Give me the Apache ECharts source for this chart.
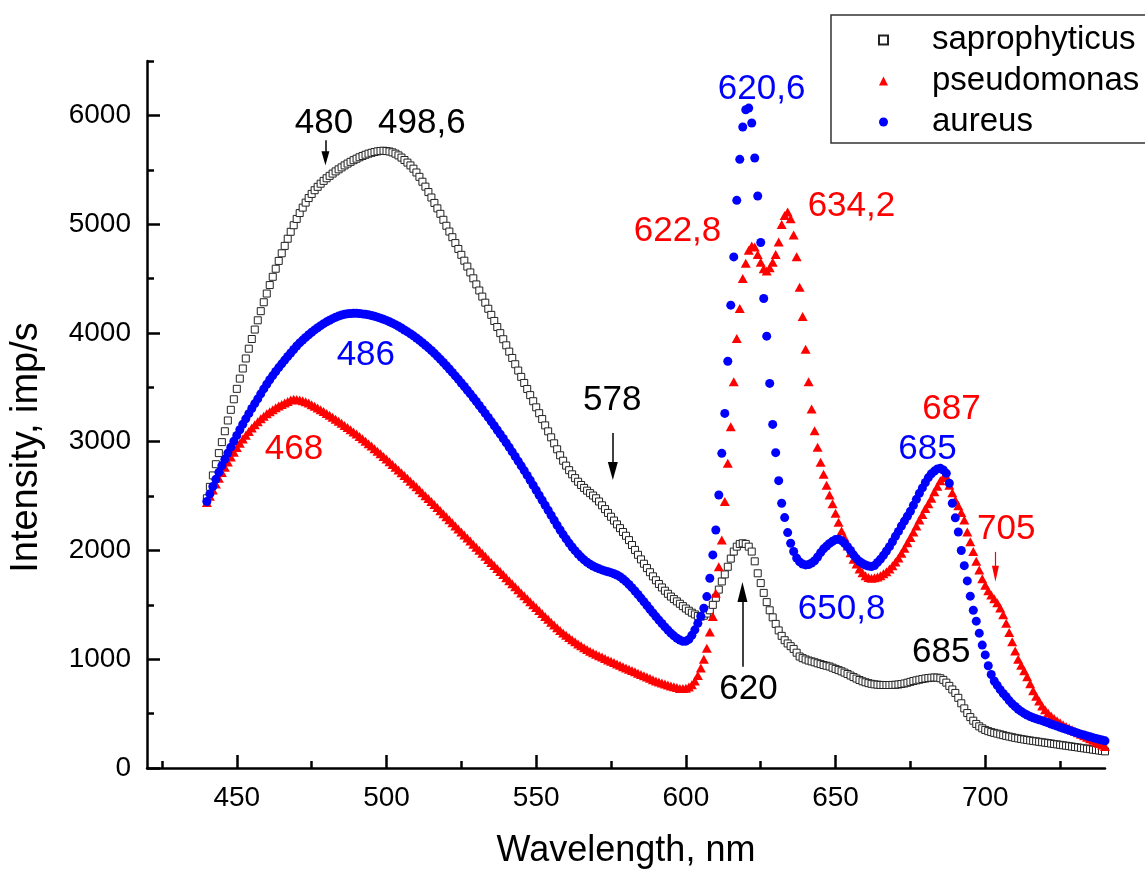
<!DOCTYPE html>
<html><head><meta charset="utf-8">
<script src="https://cdn.jsdelivr.net/npm/echarts@6/dist/echarts.min.js"></script>
<style>html,body{margin:0;padding:0;background:#fff}#c{width:1145px;height:869px}</style>
</head><body><div id="c"></div><script>
// wavelength grid: 440..740 nm, 1 nm step
const startNm = 440;
const sapro = [
2480,2585,2690,2793,2895,2996,3096,3195,3293,3390,
3486,3580,3673,3765,3855,3944,4031,4116,4200,4282,
4362,4440,4516,4590,4662,4732,4800,4866,4930,4990,
5048,5102,5152,5198,5240,5278,5312,5343,5372,5398,
5422,5444,5465,5485,5504,5522,5540,5557,5573,5588,
5602,5615,5627,5638,5648,5656,5663,5669,5673,5675,
5672,5668,5660,5648,5632,5612,5590,5566,5540,5510,
5475,5435,5390,5345,5295,5245,5195,5145,5095,5040,
4985,4932,4880,4826,4772,4718,4664,4610,4556,4502,
4446,4390,4334,4278,4222,4166,4110,4054,3998,3942,
3886,3828,3770,3712,3654,3596,3540,3484,3428,3372,
3316,3262,3208,3150,3095,3040,2985,2930,2875,2825,
2780,2738,2700,2665,2632,2602,2575,2550,2527,2505,
2480,2450,2415,2380,2345,2310,2275,2240,2205,2170,
2135,2095,2050,2005,1960,1918,1878,1838,1800,1762,
1726,1692,1660,1630,1602,1576,1553,1532,1510,1488,
1466,1446,1428,1412,1398,1392,1400,1420,1450,1500,
1565,1640,1715,1780,1850,1925,1990,2035,2060,2066,
2060,2035,1990,1900,1790,1700,1610,1525,1450,1385,
1325,1265,1215,1175,1145,1120,1095,1060,1025,1010,
998,988,980,972,963,955,947,940,933,922,
911,900,889,877,864,850,836,822,809,797,
788,780,774,769,766,764,763,763,763,764,
765,768,772,777,784,792,800,806,812,818,
823,827,830,832,831,825,810,785,755,722,
690,645,595,548,505,468,435,405,383,365,
350,339,330,323,316,309,302,295,289,283,
277,272,267,262,258,253,249,245,241,237,
233,229,225,221,217,213,209,205,201,197,
193,189,185,181,177,173,169,165,161,157,
153];
const pseudo = [
2440,2498,2555,2610,2664,2716,2766,2814,2860,2904,
2946,2986,3024,3060,3094,3126,3156,3184,3210,3234,
3256,3276,3294,3311,3327,3342,3356,3370,3384,3390,
3388,3383,3376,3367,3355,3340,3325,3310,3294,3277,
3260,3243,3225,3207,3189,3170,3150,3130,3110,3090,
3070,3048,3026,3004,2982,2960,2936,2912,2888,2864,
2840,2815,2790,2765,2740,2715,2689,2663,2637,2611,
2585,2558,2531,2504,2477,2450,2422,2394,2366,2338,
2310,2282,2254,2226,2198,2170,2142,2114,2086,2058,
2030,2002,1974,1946,1918,1890,1862,1834,1806,1778,
1750,1722,1694,1666,1638,1610,1583,1556,1529,1502,
1475,1448,1421,1394,1367,1340,1314,1289,1265,1242,
1220,1199,1179,1160,1141,1123,1105,1089,1074,1060,
1046,1033,1020,1007,994,982,970,957,945,932,
920,908,896,884,872,860,848,836,824,812,
800,790,781,772,763,755,747,739,732,730,
734,745,765,800,850,920,1000,1100,1250,1393,
1607,1851,2097,2449,2801,3137,3550,3949,4225,4500,
4640,4760,4800,4790,4720,4650,4590,4570,4600,4650,
4720,4837,4997,5080,5112,5050,4900,4700,4420,4150,
3850,3550,3300,3100,2950,2810,2700,2600,2510,2430,
2342,2260,2180,2120,2040,1980,1920,1875,1830,1795,
1768,1752,1745,1748,1755,1768,1785,1805,1830,1860,
1895,1930,1975,2020,2070,2120,2170,2225,2280,2330,
2385,2430,2480,2540,2590,2640,2670,2680,2600,2530,
2465,2410,2350,2280,2170,2080,1990,1900,1820,1740,
1680,1630,1590,1555,1520,1470,1410,1330,1245,1160,
1075,1000,945,895,840,775,710,660,615,570,
535,505,478,455,435,415,398,382,367,352,
338,325,311,297,283,268,254,240,226,212,
198];
const aureus = [
2450,2520,2588,2654,2718,2780,2838,2895,2950,3005,
3058,3110,3160,3210,3258,3305,3350,3394,3440,3485,
3528,3570,3608,3645,3681,3716,3750,3783,3815,3848,
3880,3908,3934,3959,3983,4006,4028,4048,4067,4085,
4102,4117,4131,4144,4155,4164,4171,4176,4179,4180,
4180,4178,4175,4171,4166,4160,4153,4145,4136,4126,
4115,4103,4090,4076,4061,4045,4027,4010,3992,3973,
3953,3932,3910,3887,3863,3838,3812,3785,3757,3728,
3698,3668,3637,3605,3573,3540,3507,3473,3439,3404,
3369,3333,3297,3260,3223,3185,3147,3108,3069,3029,
2989,2948,2906,2864,2821,2778,2734,2690,2645,2600,
2554,2508,2462,2416,2370,2324,2278,2232,2188,2146,
2106,2068,2032,1998,1967,1939,1914,1892,1873,1857,
1843,1831,1821,1812,1804,1796,1786,1774,1758,1738,
1714,1687,1658,1627,1595,1562,1528,1494,1460,1426,
1392,1360,1328,1297,1268,1240,1215,1193,1176,1165,
1166,1182,1220,1270,1330,1395,1469,1576,1745,1959,
2188,2510,2893,3260,3740,4255,4699,5219,5596,5893,
6052,6067,5930,5608,5259,4831,4317,3970,3536,3159,
2899,2642,2434,2302,2164,2066,1990,1930,1895,1875,
1867,1870,1885,1905,1940,1980,2015,2040,2065,2085,
2100,2103,2090,2066,2035,2000,1960,1925,1898,1880,
1866,1856,1852,1862,1890,1920,1955,1995,2035,2080,
2130,2175,2225,2270,2315,2360,2415,2470,2525,2575,
2625,2670,2705,2730,2750,2755,2740,2709,2618,2434,
2300,2170,2000,1860,1720,1580,1450,1350,1240,1130,
1040,940,860,800,760,720,685,655,620,590,
565,540,520,502,487,473,462,452,444,435,
425,415,405,395,385,375,365,356,347,338,
329,320,311,303,295,287,279,271,264,257,
250];

const seriesNames = ['saprophyticus', 'pseudomonas', 'aureus'];
const xMajorTicks = [450, 500, 550, 600, 650, 700];
const xMinorTicks = [425, 475, 525, 575, 625, 675, 725];
const yMajorTicks = [0, 1000, 2000, 3000, 4000, 5000, 6000];
const yMinorTicks = [500, 1500, 2500, 3500, 4500, 5500, 6500];

// peak annotations (text, wavelength, intensity, colour)
const noteText  = ['480', '498,6', '578', '620', '620,6', '622,8', '634,2', '650,8', '685', '687', '705', '685', '468', '486'];
const noteNm    = [479.1, 511.8, 575.4, 620.9, 625.3, 597.2, 655.3, 652.0, 680.7, 688.7, 707.0, 685.3, 469.1, 493.1];
const noteVal   = [5926, 5926, 3378, 720, 6243, 4930, 5160, 1458, 2928, 3296, 2194, 1064, 2934, 3797];
const noteColor = ['#000', '#000', '#000', '#000', '#0000ff', '#ff0000', '#ff0000', '#0000ff', '#0000ff', '#ff0000', '#ff0000', '#000', '#ff0000', '#0000ff'];
// arrows (wavelength, from intensity, to intensity, colour)
const arrowNm    = [479.6, 575.6, 618.9, 703.4];
const arrowFrom  = [5771, 3080, 930, 1987];
const arrowTo    = [5605, 2731, 1619, 1785];
const arrowColor = ['#000', '#000', '#000', '#ff0000'];

const FONT = "'Liberation Sans', Arial, Helvetica, sans-serif";
const headSize = [[8, 14], [10, 18], [10, 20], [7, 16]];
const pairs = arr => arr.map((v, i) => [startNm + i, v]);

const chart = echarts.init(document.getElementById('c'), null, {renderer: 'canvas'});
const axisCommonX = {type: 'value', min: 420, max: 740, position: 'bottom', splitLine: {show: false}};
const axisCommonY = {type: 'value', min: 0, max: 6500, position: 'left', splitLine: {show: false}};
const option = {
  animation: false,
  backgroundColor: '#fff',
  grid: {left: 147, right: 40, top: 61, bottom: 101, containLabel: false, outerBoundsMode: 'none'},
  legend: {
    orient: 'vertical', left: 831, top: 15,
    data: seriesNames,
    backgroundColor: '#fff', borderColor: '#333', borderWidth: 1.5,
    padding: [8.5, 60, 4.5, 47],
    itemWidth: 9, itemHeight: 9, itemGap: 8,
    selectedMode: false,
    textStyle: {fontSize: 33, color: '#000', fontFamily: FONT, lineHeight: 33, padding: [0, 0, 0, 39]}
  },
  xAxis: [
    Object.assign({}, axisCommonX, {
      name: 'Wavelength, nm', nameLocation: 'middle', nameGap: 65,
      nameTextStyle: {fontSize: 36, color: '#000', fontFamily: FONT},
      axisLine: {lineStyle: {color: '#000', width: 2.5}},
      axisTick: {inside: true, length: 13, lineStyle: {color: '#000', width: 2.5}, customValues: xMajorTicks},
      axisLabel: {customValues: xMajorTicks, fontSize: 28, color: '#000', fontFamily: FONT, margin: 16, formatter: v => String(v)}
    }),
    Object.assign({}, axisCommonX, {
      axisLine: {show: false},
      axisTick: {inside: true, length: 7, lineStyle: {color: '#000', width: 2.5}, customValues: xMinorTicks},
      axisLabel: {show: false}
    })
  ],
  yAxis: [
    Object.assign({}, axisCommonY, {
      name: 'Intensity, imp/s', nameLocation: 'middle', nameGap: 101,
      nameTextStyle: {fontSize: 38, color: '#000', fontFamily: FONT, padding: [0, 66, 0, 0]},
      axisLine: {lineStyle: {color: '#000', width: 2.5}},
      axisTick: {inside: true, length: 13, lineStyle: {color: '#000', width: 2.5}, customValues: yMajorTicks},
      axisLabel: {customValues: yMajorTicks, fontSize: 28, color: '#000', fontFamily: FONT, margin: 16, formatter: v => String(v)}
    }),
    Object.assign({}, axisCommonY, {
      axisLine: {show: false},
      axisTick: {inside: true, length: 7, lineStyle: {color: '#000', width: 2.5}, customValues: yMinorTicks},
      axisLabel: {show: false}
    })
  ],
  series: [
    {
      name: seriesNames[0], type: 'scatter', data: pairs(sapro),
      symbol: 'rect', symbolSize: 7,
      itemStyle: {color: '#fff', borderColor: '#222', borderWidth: 1, opacity: 1}
    },
    {
      name: seriesNames[1], type: 'scatter', data: pairs(pseudo),
      symbol: 'triangle', symbolSize: [10, 9],
      itemStyle: {color: '#ff0000', opacity: 1}
    },
    {
      name: seriesNames[2], type: 'scatter', data: pairs(aureus),
      symbol: 'circle', symbolSize: 9,
      itemStyle: {color: '#0000ff', opacity: 1}
    },
    {
      name: 'notes', type: 'scatter', silent: true, z: 5,
      symbol: 'circle', symbolSize: 1,
      itemStyle: {color: 'rgba(0,0,0,0)', opacity: 1},
      label: {show: true, position: 'inside', fontSize: 35, fontFamily: FONT},
      data: noteText.map((t, i) => ({
        value: [noteNm[i], noteVal[i]],
        label: {formatter: t, color: noteColor[i]}
      })),
      markLine: {
        silent: true, animation: false,
        symbol: ['none', 'triangle'],
        label: {show: false},
        emphasis: {disabled: true},
        data: arrowNm.map((x, i) => [
          {coord: [x, arrowFrom[i]], symbol: 'none', lineStyle: {color: arrowColor[i], width: i === 3 ? 1.2 : 1.5, type: 'solid', opacity: 1}},
          {coord: [x, arrowTo[i]], symbol: 'triangle', symbolSize: headSize[i], itemStyle: {color: arrowColor[i]}}
        ])
      }
    }
  ]
};
chart.setOption(option);
</script></body></html>
